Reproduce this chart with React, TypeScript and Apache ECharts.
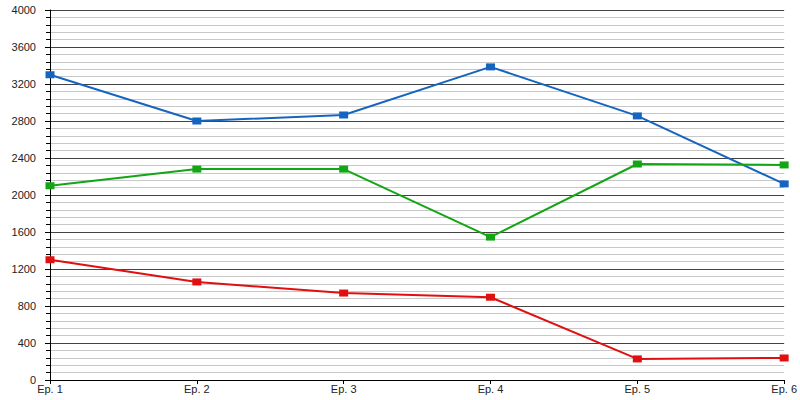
import React, { useEffect, useRef } from "react";
import * as echarts from "echarts";

const categories = ["Ep. 1", "Ep. 2", "Ep. 3", "Ep. 4", "Ep. 5", "Ep. 6"];
const blueValues = [3300, 2800, 2865, 3385, 2855, 2120];
const greenValues = [2100, 2280, 2280, 1545, 2335, 2325];
const redValues = [1300, 1060, 940, 895, 228, 238];

const FONT = "Liberation Sans";

export default function App() {
  const ref = useRef<HTMLDivElement>(null);
  useEffect(() => {
    if (!ref.current) return;
    const chart = echarts.init(ref.current, undefined, { renderer: "svg" });
    const mk = (data: number[], color: string) => ({
      type: "line",
      data,
      symbol: "rect",
      symbolSize: [9, 7],
      showSymbol: true,
      lineStyle: { color, width: 2 },
      itemStyle: { color },
      z: 5,
    });
    chart.setOption({
      animation: false,
      backgroundColor: "#ffffff",
      grid: { left: 50, right: 14, top: 10, bottom: 20, containLabel: false },
      xAxis: {
        type: "category",
        data: categories,
        boundaryGap: false,
        axisLine: { lineStyle: { color: "#000", width: 1 } },
        axisTick: { show: true, length: 4, inside: false, lineStyle: { color: "#000" } },
        axisLabel: { color: "#222", fontFamily: FONT, fontSize: 11, margin: 3 },
        splitLine: { show: false },
      },
      yAxis: {
        type: "value",
        min: 0,
        max: 4000,
        interval: 400,
        axisLine: { show: true, lineStyle: { color: "#000", width: 1 } },
        axisTick: { show: true, length: 5, lineStyle: { color: "#000" } },
        minorTick: { show: true, splitNumber: 5, length: 4, lineStyle: { color: "#000" } },
        axisLabel: {
          color: "#222",
          fontFamily: FONT,
          fontSize: 11,
          margin: 14,
          formatter: (v: number) => String(v),
        },
        splitLine: { show: true, lineStyle: { color: "#444", width: 1 } },
        minorSplitLine: { show: true, lineStyle: { color: "#c8c8c8", width: 1 } },
      },
      series: [
        mk(blueValues, "#1565c0"),
        mk(greenValues, "#14a514"),
        mk(redValues, "#e01010"),
      ],
    });
    return () => chart.dispose();
  }, []);
  return (
    <div
      ref={ref}
      style={{ position: "absolute", left: 0, top: 0, width: 800, height: 400 }}
    />
  );
}
